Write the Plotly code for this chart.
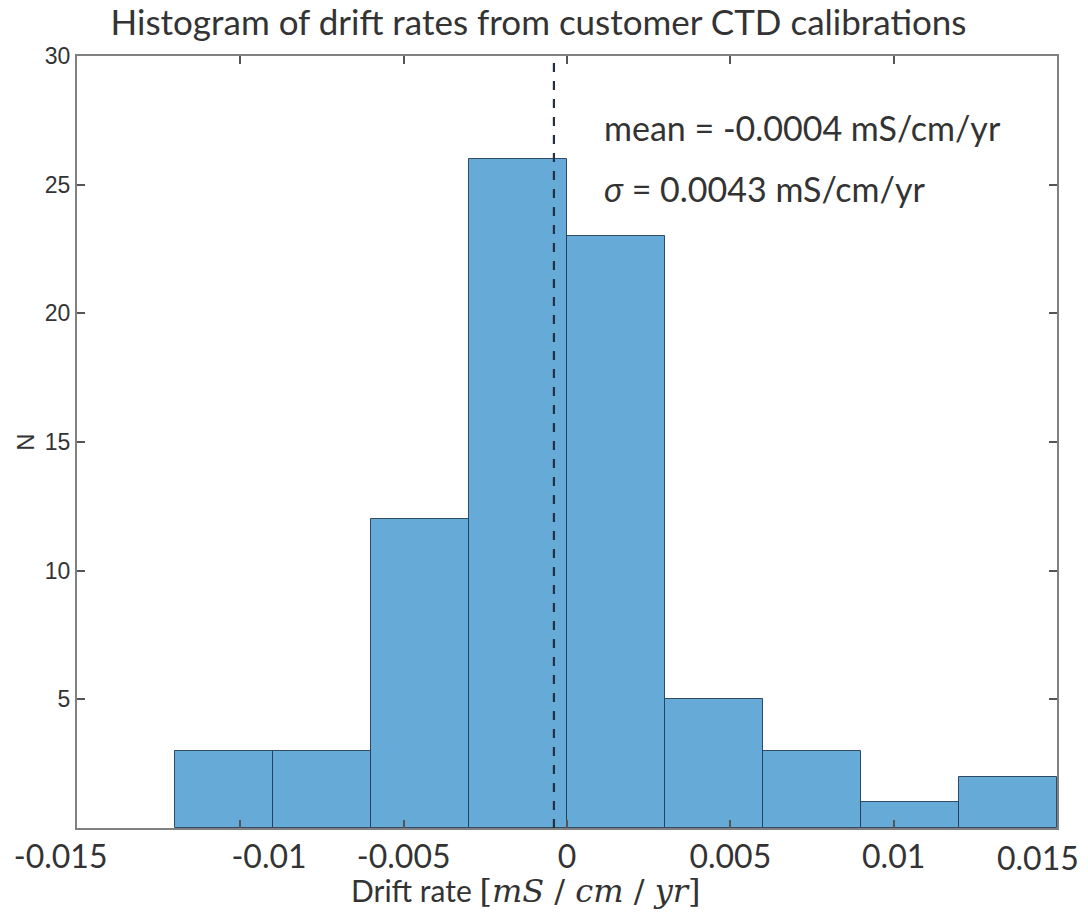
import plotly.graph_objects as go

# Data
bin_edges = [-0.012, -0.009, -0.006, -0.003, 0.0, 0.003, 0.006, 0.009, 0.012, 0.015]
counts = [3, 3, 12, 26, 23, 5, 3, 1, 2]
mean_value = -0.0004
sigma_value = 0.0043
x_ticks = [-0.015, -0.01, -0.005, 0, 0.005, 0.01, 0.015]
x_tick_labels = ["-0.015", "-0.01", "-0.005", "0", "0.005", "0.01", "0.015"]
y_ticks = [5, 10, 15, 20, 25, 30]
y_tick_labels = ["5", "10", "15", "20", "25", "30"]

centers = [(a + b) / 2 for a, b in zip(bin_edges[:-1], bin_edges[1:])]
widths = [b - a for a, b in zip(bin_edges[:-1], bin_edges[1:])]

# The reference's pasted-in tick labels sit slightly off their ticks;
# pad with no-break spaces to nudge them the same way.  The last label
# would run past the page edge when centred, so it is drawn right-anchored.
NB = "\u00a0"
x_tick_text = list(x_tick_labels)
x_tick_text[0] = x_tick_text[0] + NB * 4
x_tick_text[1] = NB * 7 + x_tick_text[1]
x_tick_text[-1] = ""

TXT = "Lato"
TXTC = "#333333"
TICKF = 32
fig = go.Figure()
fig.add_trace(go.Bar(
    x=centers, y=counts, width=widths,
    marker=dict(color="#66aad7", line=dict(color="rgba(35,60,85,0.9)", width=1)),
    showlegend=False,
))
fig.add_trace(go.Scatter(
    x=[mean_value, mean_value], y=[0, 30], mode="lines",
    line=dict(color="#22303f", width=2.2, dash="dash"),
    showlegend=False, hoverinfo="skip",
))

fig.add_annotation(
    x=x_ticks[-1], y=0, xref="x", yref="paper", xanchor="right", yanchor="middle",
    xshift=24, yshift=-29, text=x_tick_labels[-1], showarrow=False,
    font=dict(family=TXT, size=TICKF, color=TXTC),
)

fig.add_annotation(
    x=0.536, y=0.907, xref="paper", yref="paper", xanchor="left", yanchor="middle",
    text=f"mean = {mean_value:.4f} mS/cm/yr", showarrow=False,
    font=dict(family=TXT, size=34, color=TXTC),
)
fig.add_annotation(
    x=0.536, y=0.829, xref="paper", yref="paper", xanchor="left", yanchor="middle",
    text=f"<i>σ</i> = {sigma_value:.4f} mS/cm/yr", showarrow=False,
    font=dict(family=TXT, size=34, color=TXTC),
)

SERIF = "font-family:'DejaVu Serif';font-size:32px"
MI = SERIF + ";font-style:italic"
xtitle = (f"Drift rate <span style=\"{SERIF}\">[</span>"
          f"<span style=\"{MI}\">mS</span>"
          f"<span style=\"{SERIF}\"> / </span>"
          f"<span style=\"{MI}\">cm</span>"
          f"<span style=\"{SERIF}\">\u00a0/ </span>"
          f"<span style=\"{MI}\">yr</span>"
          f"<span style=\"{SERIF}\">]</span>")
fig.add_annotation(
    x=0.458, y=-0.0815, xref="paper", yref="paper", xanchor="center", yanchor="middle",
    text=xtitle, showarrow=False,
    font=dict(family=TXT, size=30, color=TXTC),
)

fig.update_layout(
    width=1088, height=913,
    margin=dict(l=77, r=31, t=56, b=85),
    paper_bgcolor="white", plot_bgcolor="white",
    bargap=0,
    title=dict(text="Histogram of drift rates from customer CTD calibrations",
               x=0.495, xanchor="center", y=0.975, yanchor="middle",
               font=dict(family=TXT, size=35, color=TXTC)),
    xaxis=dict(
        range=[-0.015, 0.015], tickmode="array", tickvals=x_ticks, ticktext=x_tick_text,
        ticks="inside", ticklen=8, tickwidth=1.5, tickcolor="#555555",
        showline=True, linecolor="#808080", linewidth=2, mirror="ticks",
        showgrid=False, zeroline=False,
        tickfont=dict(family=TXT, size=TICKF, color=TXTC),
        automargin=False,
    ),
    yaxis=dict(
        range=[0, 30], tickmode="array", tickvals=y_ticks, ticktext=y_tick_labels,
        ticks="inside", ticklen=8, tickwidth=1.5, tickcolor="#555555",
        showline=True, linecolor="#808080", linewidth=2, mirror="ticks",
        showgrid=False, zeroline=False,
        tickfont=dict(family="Liberation Sans", size=23, color=TXTC),
        title=dict(text="N", font=dict(family="Liberation Sans", size=24, color=TXTC), standoff=3),
        automargin=False,
    ),
)

fig.write_html("out.html", config={"displayModeBar": False},
               post_script="document.body.style.margin='0';")
